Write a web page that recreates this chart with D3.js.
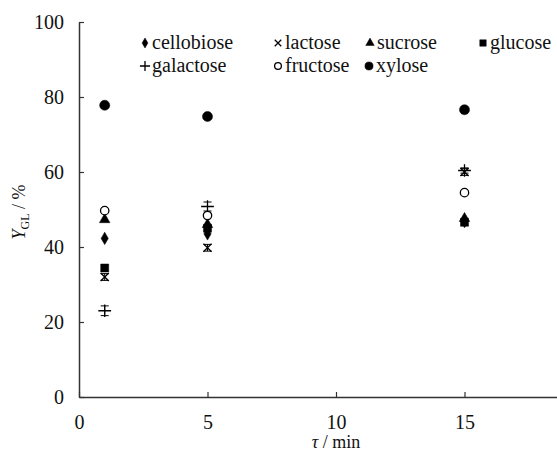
<!DOCTYPE html>
<html>
<head>
<meta charset="utf-8">
<script src="https://cdn.jsdelivr.net/npm/d3@7"></script>
</head>
<body style="margin:0">
<svg id="svg" width="557" height="456"></svg>
<script>
// time points (min)
const times = [1, 5, 15];

// yield values Y_GL (%) per sugar
const cellobiose = [42.3, 43.5, 46.8];
const lactose = [32.0, 39.8, 60.0];
const sucrose = [47.3, 46.0, 47.6];
const glucose = [34.4, 45.0, 46.6];
const galactose = [23.0, 50.8, 60.4];
const fructose = [49.7, 48.4, 54.5];
const xylose = [77.8, 74.8, 76.6];

// small error bars seen on some points
const lactoseErr = [0.9, 0.9, 0.9];
const galactoseErr = [1.3, 1.2, 0.7];

const xTicks = [0, 5, 10, 15];
const yTicks = [0, 20, 40, 60, 80, 100];

const FONT = "'Liberation Serif'";

const series = [
  { name: "cellobiose", values: cellobiose, symbol: d3.symbolDiamond, size: 45, fill: true },
  { name: "lactose", values: lactose, err: lactoseErr, symbol: d3.symbolTimes, size: 45, fill: false },
  { name: "sucrose", values: sucrose, symbol: d3.symbolTriangle, size: 48, fill: true },
  { name: "glucose", values: glucose, symbol: d3.symbolSquare, size: 64, fill: true },
  { name: "galactose", values: galactose, err: galactoseErr, symbol: d3.symbolPlus, size: 55, fill: false },
  { name: "fructose", values: fructose, symbol: d3.symbolCircle, size: 55, fill: false },
  { name: "xylose", values: xylose, symbol: d3.symbolCircle, size: 80, fill: true }
];

const svg = d3.select("#svg");

const x = d3.scaleLinear().domain([0, 20]).range([79, 593]);
const y = d3.scaleLinear().domain([0, 100]).range([397, 22]);

// axes, ticks pointing inward
const yAxis = svg.append("g")
  .attr("transform", "translate(79,0)")
  .call(d3.axisLeft(y).tickValues(yTicks).tickSize(-5).tickSizeOuter(0).tickPadding(15));

const xAxis = svg.append("g")
  .attr("transform", "translate(0,397)")
  .call(d3.axisBottom(x).tickValues(xTicks).tickSize(-5).tickSizeOuter(0).tickPadding(18));

[xAxis, yAxis].forEach((g) => {
  g.attr("font-family", "Liberation Serif").attr("font-size", 20);
  g.select(".domain").attr("stroke", "#333").attr("stroke-width", 1.5);
  g.selectAll(".tick line").attr("stroke", "#333").attr("stroke-width", 1.2);
  g.selectAll(".tick text")
    .style("font-family", FONT)
    .style("font-size", "20px")
    .attr("fill", "#111");
});

// axis titles
svg.append("text")
  .attr("x", x(10))
  .attr("y", 448)
  .attr("text-anchor", "middle")
  .attr("font-family", "Liberation Serif")
  .style("font-family", FONT)
  .style("font-size", "18px")
  .attr("fill", "#111")
  .html('<tspan font-style="italic">τ</tspan> / min');

svg.append("text")
  .attr("transform", "translate(25,212) rotate(-90)")
  .attr("text-anchor", "middle")
  .attr("font-family", "Liberation Serif")
  .style("font-family", FONT)
  .style("font-size", "18px")
  .attr("fill", "#111")
  .html('<tspan font-style="italic">Y</tspan><tspan font-size="12px" dy="4">GL</tspan><tspan dy="-4"> / %</tspan>');

function markerAttrs(sel, s) {
  sel.attr("d", d3.symbol().type(s.symbol).size(s.size))
    .attr("fill", s.fill ? "#000" : "#fff")
    .attr("stroke", "#000")
    .attr("stroke-width", s.fill ? 0.5 : 1.3);
  if (s.symbol === d3.symbolTimes || s.symbol === d3.symbolPlus) sel.attr("fill", "none");
}

// error bars
series.filter((s) => s.err).forEach((s) => {
  const g = svg.append("g").attr("class", "err");
  times.forEach((t, i) => {
    const cx = x(t);
    const y1 = y(s.values[i] + s.err[i]);
    const y2 = y(s.values[i] - s.err[i]);
    g.append("line").attr("x1", cx).attr("x2", cx).attr("y1", y1).attr("y2", y2)
      .attr("stroke", "#000").attr("stroke-width", 1);
    [y1, y2].forEach((yy) => {
      g.append("line").attr("x1", cx - 4).attr("x2", cx + 4).attr("y1", yy).attr("y2", yy)
        .attr("stroke", "#000").attr("stroke-width", 1);
    });
  });
});

// points
series.forEach((s) => {
  svg.append("g")
    .attr("class", "series " + s.name)
    .selectAll("path")
    .data(times.map((t, i) => ({ t: t, v: s.values[i] })))
    .join("path")
    .attr("transform", (d) => "translate(" + x(d.t) + "," + y(d.v) + ")")
    .call(markerAttrs, s);
});

// legend
const legendPos = [
  [145, 43], [278, 43], [370, 43], [483, 43],
  [145, 66], [278, 66], [369, 66]
];
const legend = svg.append("g").attr("class", "legend");
series.forEach((s, i) => {
  const [lx, ly] = legendPos[i];
  legend.append("path")
    .attr("transform", "translate(" + lx + "," + ly + ")")
    .call(markerAttrs, { ...s, size: s.size * 0.65 });
  legend.append("text")
    .attr("x", lx + 7)
    .attr("y", ly)
    .attr("dy", "0.32em")
    .attr("font-family", "Liberation Serif")
    .style("font-family", FONT)
    .style("font-size", "20px")
    .attr("fill", "#111")
    .text(s.name);
});
</script>
</body>
</html>
